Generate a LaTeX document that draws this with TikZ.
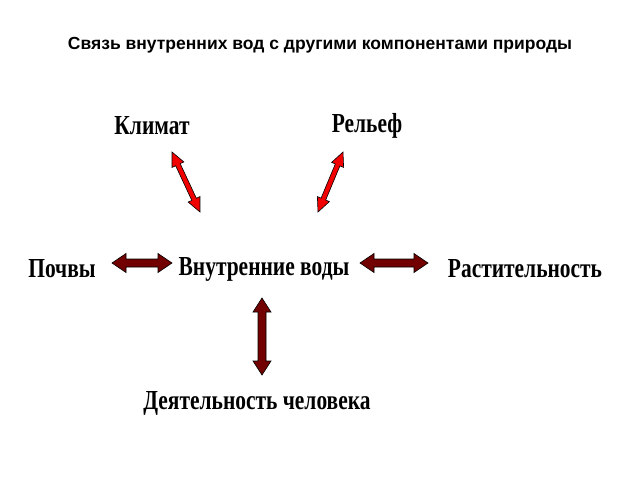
\documentclass[tikz,border=0pt]{standalone}
\usepackage{fontspec}
\setmainfont{Liberation Serif}
\newfontfamily\lbl[FakeStretch=0.78]{Liberation Serif}
\newfontfamily\ttl{Liberation Sans}
\usetikzlibrary{calc}
\tikzset{lab/.style={font=\lbl\bfseries\fontsize{27.5}{28}\selectfont, inner sep=0pt},
 redarr/.style={fill=red!95!black, draw=black, line width=0.6pt},
 darr/.style={fill=red!45!black, draw=black, line width=0.6pt}}
\newcommand{\dblarrow}[6]{% a b shaft-half head-half head-len style
\path[#6] (#1) -- ($($(#1)!#5pt!(#2)$)!#4pt!90:(#2)$) -- ($($(#1)!#5pt!(#2)$)!#3pt!90:(#2)$)
 -- ($($(#2)!#5pt!(#1)$)!#3pt!-90:(#1)$) -- ($($(#2)!#5pt!(#1)$)!#4pt!-90:(#1)$) -- (#2)
 -- ($($(#2)!#5pt!(#1)$)!#4pt!90:(#1)$) -- ($($(#2)!#5pt!(#1)$)!#3pt!90:(#1)$)
 -- ($($(#1)!#5pt!(#2)$)!#3pt!-90:(#2)$) -- ($($(#1)!#5pt!(#2)$)!#4pt!-90:(#2)$) -- cycle;}
\begin{document}
\begin{tikzpicture}[x=1pt,y=-1pt]
\useasboundingbox (0,0) rectangle (640,480);
\node[font=\ttl\bfseries\fontsize{17.5}{18}\selectfont] (t) at (320,45) {Связь внутренних вод с другими компонентами природы};
\node[lab] (k) at (152,126) {Климат};
\node[lab] (r) at (367,126) {Рельеф};
\node[lab] (p) at (62,269) {Почвы};
\node[lab] (v) at (264,269) {Внутренние воды};
\node[lab] (ra) at (525,269) {Растительность};
\node[lab] (d) at (257,403) {Деятельность человека};
\coordinate (k1) at (172,152); \coordinate (k2) at (200,212);
\coordinate (r1) at (343,152); \coordinate (r2) at (318,212);
\coordinate (p1) at (112,263); \coordinate (p2) at (172,263);
\coordinate (a1) at (360,263); \coordinate (a2) at (428,263);
\coordinate (d1) at (262,298); \coordinate (d2) at (262,375);
\dblarrow{k1}{k2}{2.5}{6.5}{14}{redarr}
\dblarrow{r1}{r2}{2.5}{6.5}{14}{redarr}
\dblarrow{p1}{p2}{4}{9.5}{14}{darr}
\dblarrow{a1}{a2}{4}{9.5}{14}{darr}
\dblarrow{d1}{d2}{4}{9}{14}{darr}
\end{tikzpicture}
\end{document}
